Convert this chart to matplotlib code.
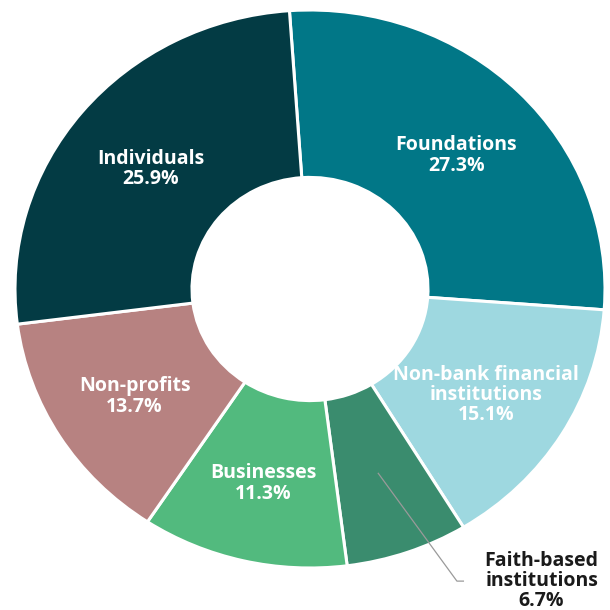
import matplotlib
matplotlib.use("Agg")
import matplotlib.pyplot as plt
import numpy as np

categories = ["Foundations", "Non-bank financial\ninstitutions", "Faith-based\ninstitutions",
              "Businesses", "Non-profits", "Individuals"]
shares = [27.3, 15.1, 6.7, 11.3, 13.7, 25.9]
colors = ["#017787", "#9ED8E0", "#3A8C6E", "#52BA7E", "#B78281", "#033B44"]

plt.rcParams['font.family'] = ['Open Sans', 'DejaVu Sans']

fig = plt.figure(figsize=(6.1, 6.1), dpi=100)
ax = fig.add_axes([15/610, 42/610, 590/610, 558/610])

wedges, _ = ax.pie(shares, colors=colors, startangle=94, counterclock=False,
                   radius=1.0,
                   wedgeprops=dict(width=0.6, edgecolor="white", linewidth=2.2))
ax.set_aspect('auto')
ax.set_xlim(-1, 1)
ax.set_ylim(-1, 1)
ax.axis('off')

r_lab = 0.7
for w, cat, val in zip(wedges, categories, shares):
    ang = np.deg2rad((w.theta1 + w.theta2) / 2)
    x, y = r_lab * np.cos(ang), r_lab * np.sin(ang)
    label = f"{cat}\n{val}%"
    if cat.startswith("Faith"):
        tx, ty = 0.785, -1.048
        ax.plot([x, 0.498, 0.52], [y, -1.047, -1.047], color="#9a9a9a", lw=0.9,
                clip_on=False, zorder=5)
        ax.text(tx, ty, label, ha="center", va="center", fontsize=14,
                fontweight="bold", color="#1a1a1a", linespacing=1.0, clip_on=False)
    else:
        ax.text(x, y - 0.015, label, ha="center", va="center", fontsize=14,
                fontweight="bold", color="white", linespacing=1.02)

fig.savefig("out.png", dpi=100)
